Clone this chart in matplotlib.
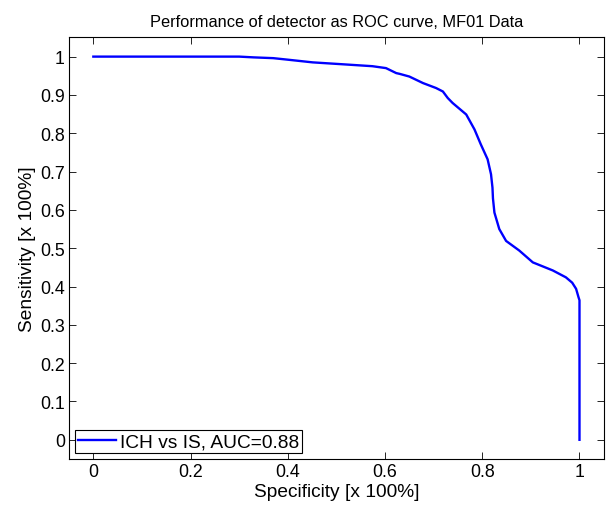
import numpy as np
import matplotlib
matplotlib.use("Agg")
from matplotlib import pyplot as plt

# ROC curve
specificity = [0.0, 0.10, 0.20, 0.30, 0.33, 0.37, 0.40, 0.451, 0.513, 0.574, 0.602, 0.623,
               0.630, 0.650, 0.678, 0.705, 0.719, 0.729, 0.739, 0.767, 0.784, 0.797,
               0.811, 0.818, 0.821, 0.822, 0.825, 0.835, 0.849, 0.876, 0.904, 0.945,
               0.972, 0.985, 0.993, 0.998, 1.0, 1.0]
sensitivity = [1.0, 1.0, 1.0, 1.0, 0.998, 0.996, 0.992, 0.985, 0.980, 0.975, 0.970, 0.957,
               0.955, 0.948, 0.931, 0.918, 0.909, 0.892, 0.879, 0.849, 0.810, 0.771,
               0.732, 0.693, 0.658, 0.630, 0.593, 0.550, 0.519, 0.494, 0.463, 0.442,
               0.424, 0.410, 0.394, 0.372, 0.364, 0.0]
ticks = [0, 0.2, 0.4, 0.6, 0.8, 1]
yticks = [0, 0.1, 0.2, 0.3, 0.4, 0.5, 0.6, 0.7, 0.8, 0.9, 1]
tick_labels = ["0", "0.2", "0.4", "0.6", "0.8", "1"]
ytick_labels = ["0", "0.1", "0.2", "0.3", "0.4", "0.5", "0.6", "0.7", "0.8", "0.9", "1"]

plt.rcParams['font.family'] = ['Liberation Sans', 'DejaVu Sans']

fig = plt.figure(figsize=(6.13, 5.06), dpi=100)
ax = fig.add_axes([0.1126, 0.091, 0.8724, 0.833])

ax.plot(specificity, sensitivity, color=(0, 0, 1), lw=1.7, label="ICH vs IS, AUC=0.88")

ax.set_xlim(-0.05, 1.05)
ax.set_ylim(-0.05, 1.05)
ax.set_xticks(ticks)
ax.set_xticklabels(tick_labels)
ax.set_yticks(yticks)
ax.set_yticklabels(ytick_labels)
ax.tick_params(direction='in', top=True, right=True, length=5, width=0.6,
               pad=3, labelsize=12.8)
for s in ax.spines.values():
    s.set_linewidth(0.8)

ax.set_title("Performance of detector as ROC curve, MF01 Data", fontsize=11.8, pad=8)
ax.set_xlabel("Specificity [x 100%]", fontsize=13.8, labelpad=2)
ax.set_ylabel("Sensitivity [x 100%]", fontsize=13.8, labelpad=3)

leg = ax.legend(loc='lower left', fancybox=False, shadow=False, framealpha=1,
                edgecolor='black', borderpad=0.15, handlelength=2.0,
                handletextpad=0.2, borderaxespad=0.3, fontsize=13.8)
leg.get_frame().set_linewidth(0.8)

fig.savefig("out.png", dpi=100)
